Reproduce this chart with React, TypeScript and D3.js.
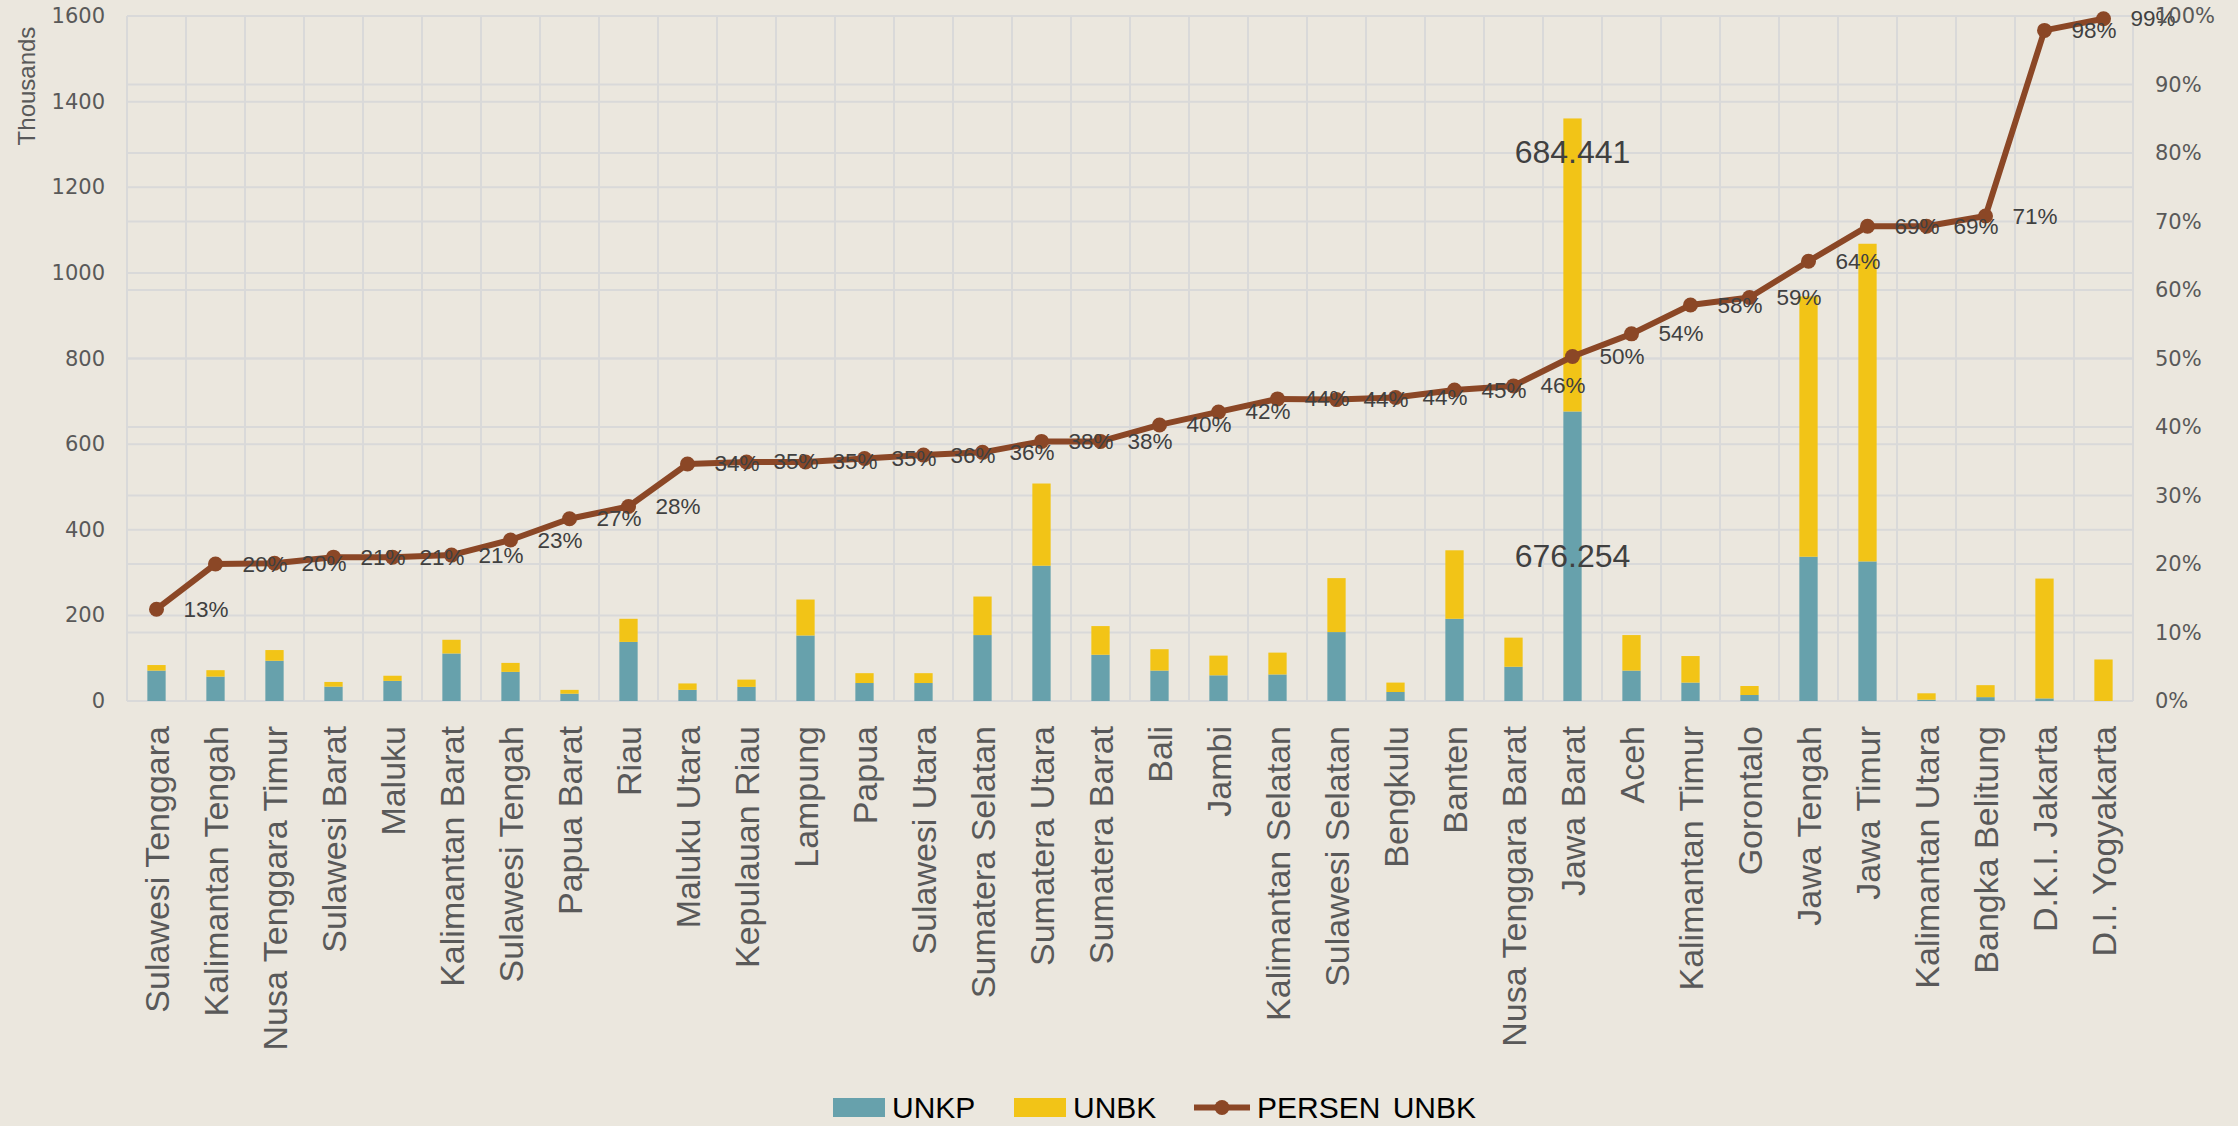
import React from 'react';
import * as d3 from 'd3';

const categories = [
  'Sulawesi Tenggara', 'Kalimantan Tengah', 'Nusa Tenggara Timur', 'Sulawesi Barat', 'Maluku',
  'Kalimantan Barat', 'Sulawesi Tengah', 'Papua Barat', 'Riau', 'Maluku Utara', 'Kepulauan Riau',
  'Lampung', 'Papua', 'Sulawesi Utara', 'Sumatera Selatan', 'Sumatera Utara', 'Sumatera Barat',
  'Bali', 'Jambi', 'Kalimantan Selatan', 'Sulawesi Selatan', 'Bengkulu', 'Banten',
  'Nusa Tenggara Barat', 'Jawa Barat', 'Aceh', 'Kalimantan Timur', 'Gorontalo', 'Jawa Tengah',
  'Jawa Timur', 'Kalimantan Utara', 'Bangka Belitung', 'D.K.I. Jakarta', 'D.I. Yogyakarta',
];

// thousands
const unkp = [71, 57, 94, 33.5, 47, 111, 68, 17, 138, 26, 33, 153, 42, 42, 154, 316, 108, 71, 60, 62,
  161, 21, 192, 80, 676.254, 71, 43, 14, 337, 326, 3, 9, 6, 0];
const unbk = [13, 15, 25, 11, 12, 32, 21, 9, 54, 15, 17, 84, 23, 23, 90, 192, 67, 50, 46, 51,
  126, 22, 160, 68, 684.441, 83, 62, 21, 608, 742, 15, 28, 280, 97];

// percent
const persen = [13.4, 20.0, 20.1, 21.0, 21.0, 21.3, 23.5, 26.6, 28.4, 34.6, 34.9, 34.9, 35.4, 35.9,
  36.3, 37.9, 37.9, 40.3, 42.2, 44.1, 44.0, 44.3, 45.4, 46.0, 50.3, 53.6, 57.8, 58.9, 64.2, 69.3,
  69.3, 70.8, 97.9, 99.6];
const persenLabels = ['13%', '20%', '20%', '21%', '21%', '21%', '23%', '27%', '28%', '34%', '35%',
  '35%', '35%', '36%', '36%', '38%', '38%', '40%', '42%', '44%', '44%', '44%', '45%', '46%', '50%',
  '54%', '58%', '59%', '64%', '69%', '69%', '71%', '98%', '99%'];

const leftTicks = [0, 200, 400, 600, 800, 1000, 1200, 1400, 1600];
const rightTicks = [0, 0.1, 0.2, 0.3, 0.4, 0.5, 0.6, 0.7, 0.8, 0.9, 1];

// the two values printed on the Jawa Barat bar
const jabarUnkpLabel = '676.254';
const jabarUnbkLabel = '684.441';

const W = 2238;
const H = 1126;
const margin = { top: 16, right: 105, bottom: 425, left: 127 };

const BG = '#EBE7DE';
const GRID = '#D9D9D9';
const C_UNKP = '#67A1AC';
const C_UNBK = '#F2C417';
const C_LINE = '#8B4726';
const TICK_FONT = '"DejaVu Sans", sans-serif';
const LABEL_FONT = '"Liberation Sans", Arial, sans-serif';

export default function App() {
  const x0 = margin.left;
  const x1 = W - margin.right;
  const yBase = H - margin.bottom;

  const x = d3.scaleBand<string>().domain(categories).range([x0, x1]).padding(0);
  const yL = d3.scaleLinear().domain([0, 1600]).range([yBase, margin.top]);
  const yR = d3.scaleLinear().domain([0, 1]).range([yBase, margin.top]);

  const rows = categories.map((c, i) => ({ cat: c, UNKP: unkp[i], UNBK: unbk[i] }));
  const stacked = d3.stack<any>().keys(['UNKP', 'UNBK'])(rows);
  const colors: Record<string, string> = { UNKP: C_UNKP, UNBK: C_UNBK };

  const bw = x.bandwidth() * 0.31;
  const cx = (c: string) => (x(c) || 0) + x.bandwidth() / 2;

  const line = d3.line<number>()
    .x((_, i) => cx(categories[i]))
    .y(d => yR(d / 100));

  const jb = categories.indexOf('Jawa Barat');

  return (
    <svg width={W} height={H} style={{ position: 'absolute', left: 0, top: 0, background: BG }}>
      <rect x={0} y={0} width={W} height={H} fill={BG} />

      {/* gridlines */}
      <g stroke={GRID} strokeWidth={2}>
        {leftTicks.map(t => (
          <line key={'l' + t} x1={x0} x2={x1} y1={yL(t)} y2={yL(t)} />
        ))}
        {rightTicks.map(t => (
          <line key={'r' + t} x1={x0} x2={x1} y1={yR(t)} y2={yR(t)} />
        ))}
        {categories.map(c => (
          <line key={c} x1={x(c)} x2={x(c)} y1={margin.top} y2={yBase} />
        ))}
        <line x1={x1} x2={x1} y1={margin.top} y2={yBase} />
      </g>

      {/* stacked bars */}
      {stacked.map(s => (
        <g key={s.key} fill={colors[s.key]}>
          {s.map((d, i) => (
            <rect key={i} x={cx(categories[i]) - bw / 2} y={yL(d[1])}
              width={bw} height={Math.max(0, yL(d[0]) - yL(d[1]))} />
          ))}
        </g>
      ))}

      {/* Jawa Barat value labels */}
      <g fontFamily={LABEL_FONT} fontSize={32} fill="#404040" textAnchor="middle" dominantBaseline="central">
        <text x={cx('Jawa Barat')} y={yL(unkp[jb] + unbk[jb]) + 34}>{jabarUnbkLabel}</text>
        <text x={cx('Jawa Barat')} y={yL(unkp[jb] / 2)}>{jabarUnkpLabel}</text>
      </g>

      {/* percent line */}
      <path d={line(persen) || ''} fill="none" stroke={C_LINE} strokeWidth={6} strokeLinejoin="round" />
      {persen.map((p, i) => (
        <circle key={i} cx={cx(categories[i])} cy={yR(p / 100)} r={7.5} fill={C_LINE} />
      ))}
      <g fontFamily={LABEL_FONT} fontSize={22.5} fill="#404040" dominantBaseline="central">
        {persen.map((p, i) => (
          <text key={i} x={cx(categories[i]) + 27} y={yR(p / 100)}>{persenLabels[i]}</text>
        ))}
      </g>

      {/* left axis */}
      <g fontFamily={TICK_FONT} fontSize={21} fill="#595959" textAnchor="end" dominantBaseline="central">
        {leftTicks.map(t => (
          <text key={t} x={x0 - 22} y={yL(t)}>{t}</text>
        ))}
      </g>
      <text transform={`translate(35,${margin.top + 70}) rotate(-90)`} textAnchor="middle"
        fontFamily={LABEL_FONT} fontSize={24} fill="#595959">Thousands</text>

      {/* right axis */}
      <g fontFamily={TICK_FONT} fontSize={21} fill="#595959" textAnchor="start" dominantBaseline="central">
        {rightTicks.map(t => (
          <text key={t} x={x1 + 22} y={yR(t)}>{d3.format('.0%')(t)}</text>
        ))}
      </g>

      {/* category labels */}
      <g fontFamily={LABEL_FONT} fontSize={34} fill="#595959" textAnchor="end">
        {categories.map(c => (
          <text key={c} transform={`translate(${cx(c)},${yBase + 25}) rotate(-90)`} dy="0.37em">{c}</text>
        ))}
      </g>

      {/* legend */}
      <g fontFamily={LABEL_FONT} fontSize={30} fill="#000">
        <rect x={833} y={1098} width={52} height={19} fill={C_UNKP} />
        <text x={892} y={1118}>UNKP</text>
        <rect x={1014} y={1098} width={52} height={19} fill={C_UNBK} />
        <text x={1073} y={1118}>UNBK</text>
        <line x1={1194} x2={1250} y1={1107.5} y2={1107.5} stroke={C_LINE} strokeWidth={6} />
        <circle cx={1222} cy={1107.5} r={7.5} fill={C_LINE} />
        <text x={1257} y={1118} wordSpacing={4}>PERSEN UNBK</text>
      </g>
    </svg>
  );
}
